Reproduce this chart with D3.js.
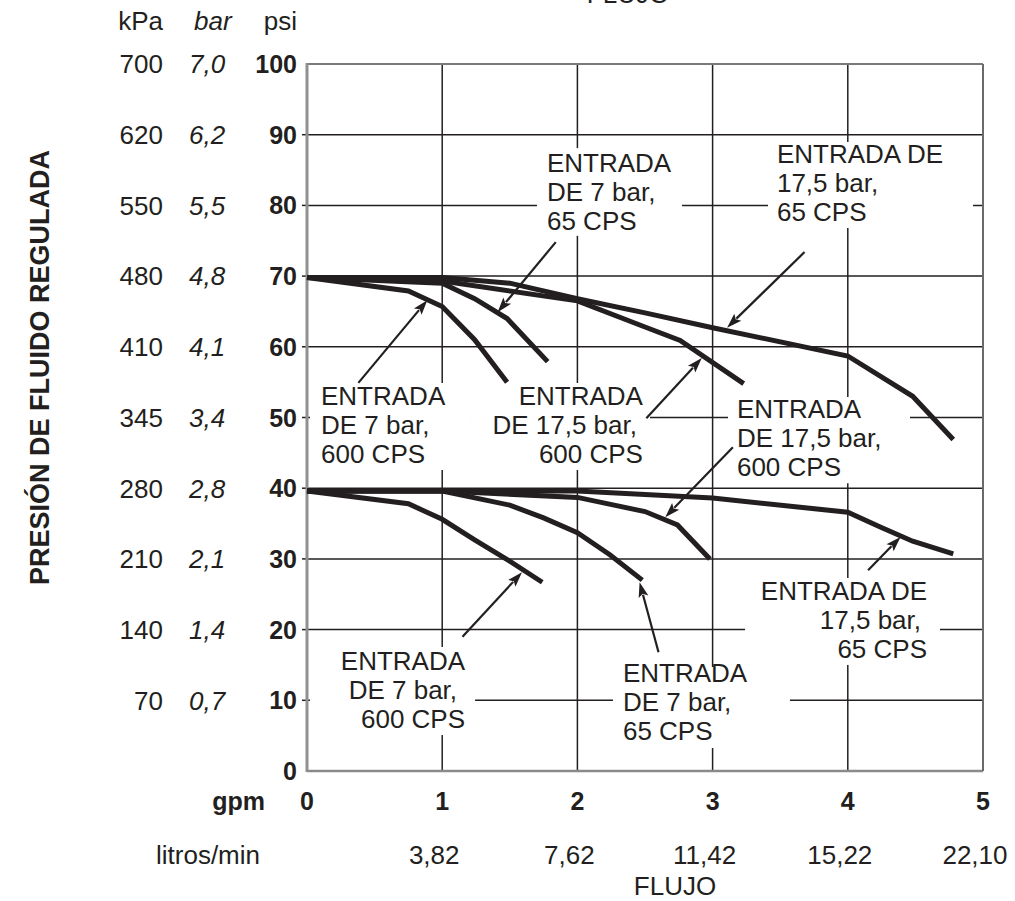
<!DOCTYPE html>
<html>
<head>
<meta charset="utf-8">
<script src="https://cdn.jsdelivr.net/npm/d3@7"></script>
<style>
  html, body { margin: 0; padding: 0; background: #fff; }
  svg { display: block; }
  text { font-family: "Liberation Sans", Arial, Helvetica, sans-serif; fill: #231f20; }
</style>
</head>
<body>
<svg id="chart" width="1015" height="901"></svg>
<script>
// ---------------- DATA ----------------
const gpmTicks = [0, 1, 2, 3, 4, 5];
const litrosLabels = ["", "3,82", "7,62", "11,42", "15,22", "22,10"];
const psiTicks = [0, 10, 20, 30, 40, 50, 60, 70, 80, 90, 100];
const kpaLabels = ["", "70", "140", "210", "280", "345", "410", "480", "550", "620", "700"];
const barLabels = ["", "0,7", "1,4", "2,1", "2,8", "3,4", "4,1", "4,8", "5,5", "6,2", "7,0"];

// curves: [gpm, psi]
const up7bar600 = [[0, 69.8], [0.75, 67.9], [1.0, 65.7], [1.24, 61], [1.48, 55]];
const up7bar65 = [[0, 69.8], [1.0, 69.0], [1.24, 66.8], [1.48, 64], [1.78, 57.9]];
const up175bar600 = [[0, 69.8], [1.0, 69.3], [2.0, 66.5], [2.5, 62.8], [2.76, 60.9], [3.23, 54.8]];
const up175bar65 = [[0, 69.8], [1.0, 69.8], [1.5, 69.0], [2.0, 66.8], [2.5, 64.8], [3.0, 62.7], [4.0, 58.7], [4.48, 53], [4.78, 46.9]];
const lo7bar600 = [[0, 39.6], [0.75, 37.8], [1.0, 35.6], [1.24, 32.7], [1.49, 29.8], [1.74, 26.7]];
const lo7bar65 = [[0, 39.6], [1.0, 39.6], [1.5, 37.6], [1.75, 35.8], [2.0, 33.7], [2.24, 30.6], [2.48, 27]];
const lo175bar600 = [[0, 39.6], [1.0, 39.6], [2.0, 38.7], [2.5, 36.7], [2.74, 34.8], [2.98, 30]];
const lo175bar65 = [[0, 39.6], [2.0, 39.6], [3.0, 38.6], [4.0, 36.6], [4.24, 34.5], [4.48, 32.5], [4.78, 30.7]];
const curves = [up7bar600, up7bar65, up175bar600, up175bar65, lo7bar600, lo7bar65, lo175bar600, lo175bar65];

// annotation texts
const noteTexts = [
  ["ENTRADA", "DE 7 bar,", "65 CPS"],
  ["ENTRADA DE", "17,5 bar,", "65 CPS"],
  ["ENTRADA", "DE 7 bar,", "600 CPS"],
  ["ENTRADA", "DE 17,5 bar,", "600 CPS"],
  ["ENTRADA", "DE 17,5 bar,", "600 CPS"],
  ["ENTRADA DE", "17,5 bar,", "65 CPS"],
  ["ENTRADA", "DE 7 bar,", "600 CPS"],
  ["ENTRADA", "DE 7 bar,", "65 CPS"]
];
// arrow tail and head in data units [gpm, psi]
const arrowTails = [[1.84, 74.8], [3.68, 73.4], [0.38, 54.9], [2.51, 49.9], [3.15, 45.8], [4.15, 28.4], [1.15, 19.0], [2.60, 16.8]];
const arrowHeads = [[1.41, 64.9], [3.107, 62.7], [0.89, 66.6], [2.92, 58.4], [2.65, 35.9], [4.39, 33.1], [1.59, 28.1], [2.46, 26.7]];

// ---------------- LAYOUT ----------------
const svg = d3.select("#chart");
const x = d3.scaleLinear().domain([0, 5]).range([307, 983]);
const y = d3.scaleLinear().domain([0, 100]).range([771, 64]);
const ink = "#231f20";

// text anchor (data units), anchor type, per-line dx, box (data units: x0,x1,yTop,yBottom)
const noteLayout = [
  { ax: 1.775, ay: 84.72, anchor: "start", dx: [0, 0, 0], box: [1.701, 2.774, 88.1, 75.7] },
  { ax: 3.476, ay: 86.0, anchor: "start", dx: [0, 0, 0], box: [3.410, 4.926, 88.97, 76.8] },
  { ax: 0.1036, ay: 51.77, anchor: "start", dx: [0, 0, 0], box: [0.022, 1.206, 54.88, 42.57] },
  { ax: 2.485, ay: 51.77, anchor: "end", dx: [0, -6, 0], box: [1.206, 2.537, 54.88, 42.57] },
  { ax: 3.180, ay: 49.93, anchor: "start", dx: [0, 0, 0], box: [3.114, 4.460, 52.9, 40.7] },
  { ax: 4.586, ay: 24.19, anchor: "end", dx: [0, -6, 0], box: [3.240, 4.682, 27.3, 15.0] },
  { ax: 1.169, ay: 14.29, anchor: "end", dx: [0, -8, 0], box: [0.022, 1.243, 17.54, 5.09] },
  { ax: 2.337, ay: 12.59, anchor: "start", dx: [0, 0, 0], box: [2.263, 3.572, 14.71, 3.25] }
];
const lineStep = 29;

// ---------------- GRID ----------------
const grid = svg.append("g");
grid.selectAll("line.v").data(gpmTicks.slice(1, -1)).enter().append("line")
  .attr("x1", d => x(d)).attr("x2", d => x(d))
  .attr("y1", y(100)).attr("y2", y(0))
  .attr("stroke", ink).attr("stroke-width", 1.5);
grid.selectAll("line.h").data(psiTicks.slice(1, -1)).enter().append("line")
  .attr("x1", x(0)).attr("x2", x(5))
  .attr("y1", d => y(d)).attr("y2", d => y(d))
  .attr("stroke", ink).attr("stroke-width", 1.5);
grid.selectAll("line.t").data(psiTicks.slice(1, -1)).enter().append("line")
  .attr("x1", x(0) - 5).attr("x2", x(0))
  .attr("y1", d => y(d)).attr("y2", d => y(d))
  .attr("stroke", ink).attr("stroke-width", 1.5);

// label boxes (white) interrupt grid
svg.append("g").selectAll("rect").data(noteLayout).enter().append("rect")
  .attr("x", d => x(d.box[0])).attr("width", d => x(d.box[1]) - x(d.box[0]))
  .attr("y", d => y(d.box[2])).attr("height", d => y(d.box[3]) - y(d.box[2]))
  .attr("fill", "#fff");

// frame
const frame = svg.append("g");
frame.append("line").attr("x1", x(0)).attr("x2", x(5)).attr("y1", y(100)).attr("y2", y(100)).attr("stroke", "#7a7a7a").attr("stroke-width", 2);
frame.append("line").attr("x1", x(0)).attr("x2", x(5)).attr("y1", y(0)).attr("y2", y(0)).attr("stroke", "#8a8a8a").attr("stroke-width", 2.5);
frame.append("line").attr("x1", x(5)).attr("x2", x(5)).attr("y1", y(100)).attr("y2", y(0)).attr("stroke", "#6a6a6a").attr("stroke-width", 2);
frame.append("line").attr("x1", x(0)).attr("x2", x(0)).attr("y1", y(100) - 1).attr("y2", y(0) + 1).attr("stroke", "#909090").attr("stroke-width", 3);

// ---------------- CURVES ----------------
const line = d3.line().x(d => x(d[0])).y(d => y(d[1]));
svg.append("g").selectAll("path").data(curves).enter().append("path")
  .attr("d", line).attr("fill", "none").attr("stroke", ink)
  .attr("stroke-width", 5).attr("stroke-linejoin", "miter").attr("stroke-linecap", "butt");

// ---------------- ARROWS ----------------
const arrows = svg.append("g");
arrowTails.forEach((t, i) => {
  const h = arrowHeads[i];
  const x1 = x(t[0]), y1 = y(t[1]), x2 = x(h[0]), y2 = y(h[1]);
  const L = Math.hypot(x2 - x1, y2 - y1), ux = (x2 - x1) / L, uy = (y2 - y1) / L;
  const hl = 15, hw = 5;
  const bx = x2 - ux * hl, by = y2 - uy * hl;
  arrows.append("line").attr("x1", x1).attr("y1", y1).attr("x2", bx + ux * 2).attr("y2", by + uy * 2)
    .attr("stroke", ink).attr("stroke-width", 2.2);
  arrows.append("path")
    .attr("d", `M${x2},${y2}L${bx - uy * hw},${by + ux * hw}L${bx + ux * 3},${by + uy * 3}L${bx + uy * hw},${by - ux * hw}Z`)
    .attr("fill", ink);
});

// ---------------- NOTE TEXT ----------------
const notes = svg.append("g").attr("font-size", 26);
noteTexts.forEach((lines, i) => {
  const L = noteLayout[i];
  lines.forEach((s, j) => {
    notes.append("text").attr("x", x(L.ax) + L.dx[j]).attr("y", y(L.ay) + j * lineStep)
      .attr("text-anchor", L.anchor).text(s);
  });
});

// ---------------- AXIS LABELS ----------------
const ax = svg.append("g");
ax.selectAll("text.psi").data(psiTicks).enter().append("text")
  .attr("x", 297).attr("y", d => y(d)).attr("dy", "0.36em")
  .attr("text-anchor", "end").attr("font-weight", "bold").attr("font-size", 25).text(d => d);
ax.selectAll("text.kpa").data(psiTicks).enter().append("text")
  .attr("x", 163).attr("y", d => y(d)).attr("dy", "0.36em")
  .attr("text-anchor", "end").attr("font-size", 26).text((d, i) => kpaLabels[i]);
ax.selectAll("text.bar").data(psiTicks).enter().append("text")
  .attr("x", 189).attr("y", d => y(d)).attr("dy", "0.36em")
  .attr("text-anchor", "start").attr("font-style", "italic").attr("font-size", 26).text((d, i) => barLabels[i]);
ax.append("text").attr("x", 163).attr("y", 30).attr("text-anchor", "end").attr("font-size", 26).text("kPa");
ax.append("text").attr("x", 194).attr("y", 30).attr("text-anchor", "start").attr("font-style", "italic").attr("font-size", 26).text("bar");
ax.append("text").attr("x", 297).attr("y", 30).attr("text-anchor", "end").attr("font-size", 26).text("psi");

ax.selectAll("text.gpm").data(gpmTicks).enter().append("text")
  .attr("x", d => x(d)).attr("y", 810)
  .attr("text-anchor", "middle").attr("font-weight", "bold").attr("font-size", 25).text(d => d);
ax.append("text").attr("x", 265).attr("y", 810).attr("text-anchor", "end").attr("font-weight", "bold").attr("font-size", 25).text("gpm");

ax.selectAll("text.lit").data(gpmTicks).enter().append("text")
  .attr("x", d => x(d) - 8).attr("y", 864)
  .attr("text-anchor", "middle").attr("font-size", 26).text((d, i) => litrosLabels[i]);
ax.append("text").attr("x", 260).attr("y", 864).attr("text-anchor", "end").attr("font-size", 26).text("litros/min");

ax.append("text").attr("x", 675).attr("y", 895).attr("text-anchor", "middle").attr("font-size", 26).text("FLUJO");
ax.append("text").attr("x", 628).attr("y", 3).attr("text-anchor", "middle").attr("font-size", 26).text("FLUJO");

ax.append("text").attr("transform", "translate(49,150) rotate(-90)")
  .attr("text-anchor", "end").attr("font-weight", "bold").attr("font-size", 27)
  .text("PRESIÓN DE FLUIDO REGULADA");
</script>
</body>
</html>
